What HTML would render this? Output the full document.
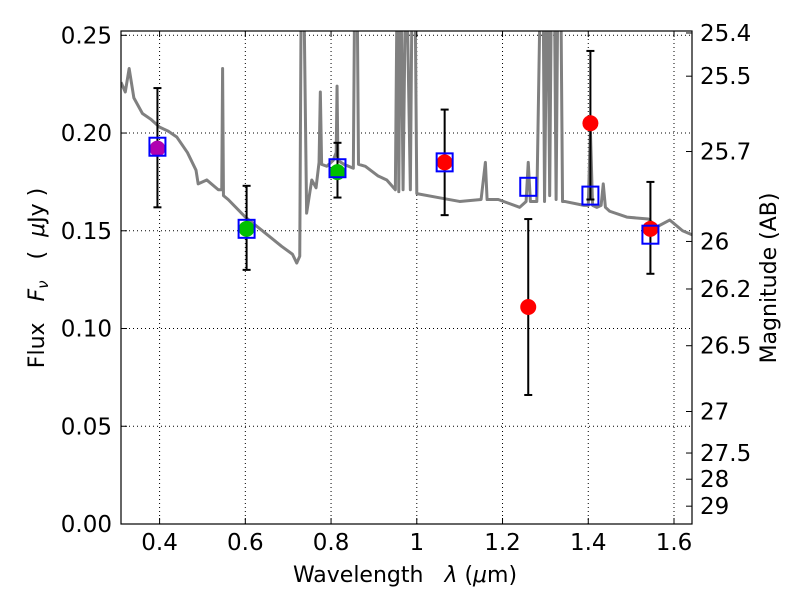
<!DOCTYPE html>
<html><head><meta charset="utf-8"><style>
body{margin:0;background:#fff}
svg{font-family:"DejaVu Sans","Liberation Sans",sans-serif}
</style></head><body>
<svg id="chart" width="800" height="600" viewBox="0 0 800 600" xmlns="http://www.w3.org/2000/svg">
<defs><clipPath id="clip"><rect x="121" y="31" width="571" height="493"/></clipPath></defs>
<g id="grid"></g>
<g id="spec" clip-path="url(#clip)"></g>
<g id="pts"></g>
<rect x="121" y="31" width="571" height="493" fill="none" stroke="#000" stroke-width="1.2"/>
<g id="axes"></g>
<text x="405" y="582" font-size="22" text-anchor="middle">Wavelength&#160;&#160;&#160;<tspan font-style="italic">λ</tspan>&#160;(<tspan font-style="italic">μ</tspan>m)</text>
<text transform="translate(44,278) rotate(-90)" font-size="22" text-anchor="middle">Flux&#160;&#160;&#160;<tspan font-style="italic">F<tspan font-size="15" dy="4">ν</tspan></tspan><tspan dy="-4">&#160;&#160;&#160;(&#160;&#160;</tspan><tspan font-style="italic">μ</tspan>Jy&#160;)</text>
<text transform="translate(776,278) rotate(-90)" font-size="22" text-anchor="middle">Magnitude (AB)</text>
</svg>
<script>
const xTicks=[0.4,0.6,0.8,1.0,1.2,1.4,1.6];
const xTickLabels=["0.4","0.6","0.8","1","1.2","1.4","1.6"];
const yTicks=[0,0.05,0.10,0.15,0.20,0.25];
const yTickLabels=["0.00","0.05","0.10","0.15","0.20","0.25"];
const magTicks=[25.4,25.5,25.7,26,26.2,26.5,27,27.5,28,29];
const magTickLabels=["25.4","25.5","25.7","26","26.2","26.5","27","27.5","28","29"];
const specWave=[0.31,0.32,0.329,0.34,0.36,0.38,0.40,0.42,0.44,0.465,0.485,0.49,0.51,0.537,0.545,0.547,0.549,0.56,0.60,0.64,0.685,0.71,0.72,0.727,0.731,0.735,0.743,0.755,0.765,0.772,0.775,0.778,0.79,0.805,0.812,0.814,0.816,0.83,0.852,0.856,0.86,0.864,0.88,0.91,0.93,0.95,0.955,0.958,0.962,0.968,0.975,0.985,0.99,0.995,1.0,1.05,1.10,1.15,1.16,1.164,1.168,1.19,1.24,1.255,1.26,1.265,1.28,1.29,1.294,1.298,1.305,1.31,1.315,1.32,1.325,1.33,1.335,1.34,1.345,1.39,1.4,1.405,1.41,1.42,1.43,1.435,1.44,1.45,1.49,1.54,1.56,1.59,1.62,1.642];
const specFlux=[0.226,0.221,0.233,0.218,0.210,0.207,0.203,0.201,0.198,0.190,0.181,0.174,0.176,0.171,0.171,0.233,0.168,0.166,0.157,0.150,0.142,0.138,0.1335,0.137,0.30,0.30,0.159,0.176,0.172,0.185,0.221,0.184,0.183,0.186,0.190,0.224,0.186,0.184,0.182,0.30,0.30,0.184,0.183,0.178,0.176,0.171,0.30,0.17,0.30,0.171,0.30,0.171,0.30,0.30,0.169,0.167,0.165,0.166,0.185,0.166,0.166,0.166,0.162,0.165,0.185,0.165,0.165,0.30,0.30,0.165,0.30,0.168,0.30,0.30,0.166,0.30,0.30,0.165,0.165,0.163,0.163,0.2015,0.163,0.162,0.163,0.174,0.162,0.160,0.157,0.156,0.152,0.1555,0.150,0.148];
const obsWave=[0.395,0.603,0.815,1.065,1.26,1.405,1.545];
const obsFlux=[0.192,0.151,0.180,0.185,0.111,0.205,0.151];
const obsLo=[0.162,0.130,0.167,0.158,0.066,0.166,0.128];
const obsHi=[0.223,0.173,0.195,0.212,0.156,0.242,0.175];
const modelFlux=[0.193,0.151,0.182,0.185,0.1725,0.168,0.148];
const obsColor=["#b000b0","#00c000","#00c000","#ff0000","#ff0000","#ff0000","#ff0000"];

const X0=121,X1=692,Y0=524,Y1=31,xmin=0.31,xmax=1.642,ymin=0,ymax=0.2522;
const sx=v=>X0+(v-xmin)/(xmax-xmin)*(X1-X0);
const sy=v=>Y0-(v-ymin)/(ymax-ymin)*(Y0-Y1);
const NS="http://www.w3.org/2000/svg";
function mk(tag,attrs,parent){const e=document.createElementNS(NS,tag);for(const k in attrs)e.setAttribute(k,attrs[k]);parent.appendChild(e);return e;}
const grid=document.getElementById('grid'),axes=document.getElementById('axes'),spec=document.getElementById('spec'),pts=document.getElementById('pts');
xTicks.forEach((t,i)=>{const x=sx(t);
 const g=mk('line',{x1:x,x2:x,y1:Y1,y2:Y0,stroke:'#000','stroke-width':1,'stroke-dasharray':'1,3'},grid);
 
 
 mk('line',{x1:x,x2:x,y1:Y0,y2:Y0-6,stroke:'#000'},axes);
 mk('line',{x1:x,x2:x,y1:Y1,y2:Y1+6,stroke:'#000'},axes);
 const tx=mk('text',{x:x,y:Y0+26,'font-size':23,'text-anchor':'middle'},axes);tx.textContent=xTickLabels[i];
 
 
});
yTicks.forEach((t,i)=>{const y=sy(t);
 const g=mk('line',{x1:X0,x2:X1,y1:y,y2:y,stroke:'#000','stroke-width':1,'stroke-dasharray':'1,3'},grid);
 
 
 mk('line',{x1:X0,x2:X0+6,y1:y,y2:y,stroke:'#000'},axes);
 const tx=mk('text',{x:X0-9,y:y+8,'font-size':23,'text-anchor':'end'},axes);tx.textContent=yTickLabels[i];
 
 
});
magTicks.forEach((m,i)=>{const y=sy(Math.pow(10,(23.9-m)/2.5));
 mk('line',{x1:X1,x2:X1-6,y1:y,y2:y,stroke:'#000'},axes);
 const tx=mk('text',{x:X1+8,y:y+8,'font-size':23,'text-anchor':'start'},axes);tx.textContent=magTickLabels[i];
 
 
});
const p=mk('polyline',{points:specWave.map((w,i)=>sx(w)+','+sy(specFlux[i])).join(' '),fill:'none',stroke:'#808080','stroke-width':3,'stroke-linejoin':'round'},spec);


obsWave.forEach((w,i)=>{const x=sx(w);
 const e=mk('line',{x1:x,x2:x,y1:sy(obsLo[i]),y2:sy(obsHi[i]),stroke:'#000','stroke-width':2},pts);
 
 
 [obsLo[i],obsHi[i]].forEach(v=>mk('line',{x1:x-4,x2:x+4,y1:sy(v),y2:sy(v),stroke:'#000','stroke-width':2},pts));
 const c=mk('circle',{cx:x,cy:sy(obsFlux[i]),r:8,fill:obsColor[i]},pts);
 
 
 const s=mk('rect',{x:x-8,y:sy(modelFlux[i])-9,width:16,height:18,fill:'none',stroke:'#0000ff','stroke-width':2},pts);
 
 
});
</script>
</body></html>
